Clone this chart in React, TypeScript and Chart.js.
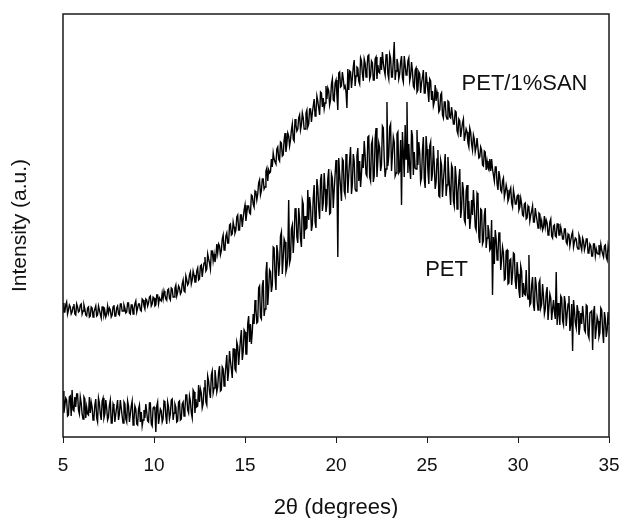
import React, { useEffect, useRef } from "react";
import { Chart, registerables } from "chart.js";

Chart.register(...registerables);

// 2θ scan: first angle and step (degrees)
const angleStart = 5;
const angleStep = 0.05;

// PET/1%SAN intensity (a.u.), one value per 0.05° (one row = 0.5°)
const petSanIntensity = [
  134, 125, 125, 132, 135, 123, 127, 132, 130, 123,
  125, 130, 133, 123, 122, 133, 130, 125, 126, 132,
  133, 123, 126, 132, 128, 122, 121, 129, 130, 120,
  121, 130, 129, 120, 125, 128, 131, 121, 122, 131,
  127, 123, 119, 130, 130, 122, 126, 120, 123, 131,
  124, 129, 127, 120, 122, 130, 132, 121, 121, 129,
  131, 123, 122, 133, 133, 126, 126, 132, 129, 124,
  125, 134, 134, 124, 123, 132, 132, 123, 128, 133,
  136, 125, 129, 133, 133, 127, 126, 138, 137, 131,
  128, 138, 137, 131, 134, 140, 141, 131, 133, 140,
  139, 131, 132, 142, 142, 133, 139, 137, 136, 144,
  138, 146, 142, 139, 137, 147, 148, 139, 137, 149,
  148, 140, 140, 149, 152, 141, 145, 151, 149, 143,
  145, 153, 157, 146, 145, 161, 157, 152, 154, 162,
  165, 153, 157, 166, 162, 155, 155, 166, 169, 157,
  158, 171, 172, 160, 168, 174, 180, 166, 168, 183,
  178, 174, 168, 186, 186, 176, 183, 175, 180, 193,
  184, 193, 191, 182, 186, 198, 202, 187, 188, 201,
  204, 194, 194, 212, 213, 202, 203, 215, 210, 204,
  207, 220, 222, 207, 207, 222, 222, 210, 219, 227,
  232, 216, 224, 231, 231, 224, 223, 242, 241, 233,
  230, 246, 245, 237, 243, 254, 257, 242, 246, 258,
  258, 248, 250, 266, 269, 256, 267, 264, 265, 278,
  270, 284, 278, 275, 273, 288, 290, 278, 276, 295,
  294, 281, 282, 297, 304, 285, 293, 304, 301, 291,
  297, 307, 313, 298, 296, 318, 312, 306, 308, 319,
  322, 307, 312, 324, 319, 308, 308, 324, 327, 310,
  313, 328, 328, 315, 324, 331, 338, 321, 324, 341,
  336, 329, 322, 345, 344, 330, 339, 328, 334, 351,
  338, 349, 346, 332, 337, 353, 358, 337, 336, 354,
  357, 342, 327, 364, 365, 350, 351, 365, 358, 349,
  351, 345, 329, 368, 347, 366, 365, 349, 359, 370,
  377, 351, 361, 370, 369, 356, 353, 379, 376, 363,
  356, 378, 374, 360, 367, 381, 382, 358, 361, 376,
  374, 357, 357, 378, 380, 358, 372, 365, 364, 380,
  367, 385, 374, 367, 362, 382, 383, 363, 358, 383,
  379, 360, 360, 377, 395, 357, 366, 378, 373, 358,
  363, 375, 381, 359, 355, 381, 372, 362, 363, 376,
  379, 356, 361, 375, 366, 351, 349, 367, 369, 345,
  347, 365, 363, 344, 354, 360, 367, 344, 344, 365,
  355, 346, 335, 358, 356, 337, 346, 331, 335, 352,
  336, 345, 340, 325, 327, 342, 344, 322, 319, 335,
  335, 321, 318, 336, 335, 320, 319, 330, 322, 313,
  313, 326, 325, 306, 303, 318, 316, 300, 307, 314,
  318, 296, 302, 308, 305, 294, 290, 309, 305, 293,
  287, 302, 298, 285, 290, 299, 299, 279, 280, 290,
  287, 272, 271, 286, 285, 267, 276, 269, 267, 278,
  266, 278, 268, 262, 256, 270, 270, 253, 247, 266,
  260, 247, 245, 256, 259, 240, 245, 252, 247, 236,
  239, 246, 249, 234, 230, 247, 241, 233, 233, 241,
  242, 227, 230, 239, 233, 222, 221, 233, 234, 218,
  219, 231, 229, 216, 222, 226, 231, 215, 215, 229,
  222, 216, 209, 224, 223, 211, 216, 207, 210, 221,
  210, 217, 214, 202, 204, 215, 218, 201, 199, 211,
  212, 201, 200, 213, 213, 202, 202, 210, 205, 198,
  198, 208, 208, 195, 193, 203, 202, 191, 197, 202,
  205, 190, 195, 199, 198, 190, 188, 202, 199, 191,
  187, 199, 196, 187, 191, 198, 198, 184, 185, 193,
  191, 181, 181, 193, 193, 181, 188, 184, 183, 192,
  184, 193, 187, 183, 180, 191, 192, 180, 177, 191,
  185,
];

// PET intensity (a.u.), one value per 0.05° (one row = 0.5°)
const petIntensity = [
  46, 24, 31, 39, 37, 21, 22, 40, 41, 21,
  47, 27, 26, 40, 30, 43, 43, 27, 23, 40,
  34, 23, 18, 40, 38, 19, 30, 23, 22, 40,
  24, 35, 30, 17, 19, 32, 38, 19, 15, 39,
  34, 23, 17, 36, 39, 19, 23, 37, 29, 17,
  20, 32, 37, 14, 14, 33, 30, 15, 23, 30,
  37, 17, 23, 37, 29, 21, 14, 35, 33, 18,
  15, 36, 31, 15, 23, 31, 36, 12, 17, 31,
  28, 13, 12, 28, 32, 15, 25, 11, 17, 27,
  19, 33, 25, 16, 15, 34, 34, 13, 11, 29,
  30, 27, 5, 31, 35, 13, 20, 28, 26, 15,
  18, 36, 35, 21, 13, 35, 30, 18, 23, 37,
  38, 17, 24, 33, 30, 15, 16, 35, 36, 17,
  18, 33, 35, 21, 28, 42, 42, 27, 24, 41,
  36, 24, 19, 47, 45, 24, 38, 30, 31, 52,
  35, 48, 44, 29, 33, 49, 57, 35, 32, 61,
  56, 45, 39, 62, 66, 44, 49, 67, 58, 45,
  50, 65, 71, 46, 47, 70, 68, 51, 61, 71,
  82, 56, 65, 86, 76, 68, 59, 88, 88, 68,
  66, 95, 91, 72, 85, 97, 107, 77, 85, 107,
  105, 83, 83, 113, 121, 95, 113, 93, 105, 123,
  113, 137, 128, 114, 115, 149, 151, 120, 118, 151,
  157, 121, 128, 164, 175, 132, 148, 167, 165, 145,
  152, 190, 189, 162, 147, 192, 184, 161, 173, 201,
  205, 163, 179, 198, 195, 165, 169, 180, 237, 174,
  178, 208, 212, 184, 200, 228, 229, 200, 194, 229,
  218, 198, 190, 237, 233, 198, 221, 208, 209, 247,
  217, 240, 231, 206, 212, 239, 252, 215, 209, 258,
  249, 229, 218, 257, 263, 226, 234, 264, 248, 225,
  233, 258, 268, 223, 224, 263, 259, 229, 247, 262,
  277, 262, 180, 279, 263, 250, 236, 278, 276, 246,
  242, 283, 275, 244, 262, 277, 290, 243, 253, 283,
  276, 248, 246, 281, 289, 256, 276, 250, 263, 283,
  269, 296, 282, 263, 261, 300, 301, 260, 256, 293,
  297, 255, 261, 298, 309, 260, 276, 294, 289, 266,
  272, 311, 309, 278, 260, 268, 335, 271, 281, 310,
  313, 266, 282, 300, 295, 261, 264, 303, 305, 264,
  266, 297, 232, 305, 284, 260, 312, 278, 335, 264,
  293, 269, 258, 307, 301, 262, 285, 269, 268, 307,
  272, 295, 284, 255, 259, 287, 300, 258, 249, 301,
  288, 266, 253, 291, 295, 256, 263, 291, 273, 248,
  255, 278, 287, 241, 240, 277, 272, 240, 256, 269,
  283, 241, 252, 280, 263, 247, 232, 272, 269, 236,
  231, 271, 260, 228, 244, 257, 268, 219, 228, 255,
  247, 217, 214, 246, 252, 218, 236, 208, 219, 237,
  222, 247, 231, 210, 207, 244, 242, 200, 194, 228,
  227, 193, 196, 222, 229, 189, 199, 212, 206, 187,
  189, 217, 142, 200, 173, 207, 198, 177, 183, 204,
  204, 167, 177, 190, 184, 157, 158, 186, 187, 153,
  154, 177, 178, 152, 163, 184, 183, 156, 148, 175,
  163, 147, 139, 171, 166, 140, 154, 143, 142, 167,
  144, 138, 182, 132, 134, 152, 160, 132, 126, 160,
  152, 136, 127, 154, 157, 129, 133, 153, 141, 123,
  128, 144, 150, 117, 117, 143, 139, 117, 128, 137,
  125, 118, 165, 112, 134, 123, 112, 141, 139, 116,
  112, 141, 134, 111, 123, 133, 141, 106, 113, 133,
  86, 137, 127, 114, 109, 132, 126, 102, 110, 124,
  113, 131, 121, 107, 105, 132, 131, 102, 99, 124,
  125, 126, 87, 124, 131, 98, 108, 120, 116, 100,
  104, 129, 127, 106, 94, 125, 118, 100, 107, 125,
  112,
];

// axis ranges / ticks
const angleMin = 5;
const angleMax = 35;
const angleTickStep = 5;
const intensityMin = 0;
const intensityMax = 423;

// in-plot series labels (data coordinates)
const seriesNames = ["PET/1%SAN", "PET"];
const seriesLabelAngles = [26.9, 24.9];
const seriesLabelIntensities = [353, 167];

const FONT = "'Liberation Sans', Arial, Helvetica, sans-serif";
const INK = "#111111";

export default function App() {
  const canvasRef = useRef<HTMLCanvasElement | null>(null);

  useEffect(() => {
    const canvas = canvasRef.current;
    if (!canvas) return;

    const toPoints = (arr: number[]) =>
      arr.map((v, i) => ({ x: angleStart + i * angleStep, y: v }));

    const framePlugin = {
      id: "frameBox",
      afterDraw(chart: any) {
        const { ctx, chartArea: a } = chart;
        ctx.save();
        ctx.strokeStyle = "#1a1a1a";
        ctx.lineWidth = 1.5;
        ctx.strokeRect(a.left, a.top, a.right - a.left, a.bottom - a.top);
        ctx.restore();
      },
    };

    const labelPlugin = {
      id: "seriesLabels",
      afterDatasetsDraw(chart: any) {
        const { ctx, scales } = chart;
        ctx.save();
        ctx.fillStyle = INK;
        ctx.font = `22px ${FONT}`;
        ctx.textAlign = "left";
        ctx.textBaseline = "middle";
        seriesNames.forEach((name, i) => {
          const px = scales.x.getPixelForValue(seriesLabelAngles[i]);
          const py = scales.y.getPixelForValue(seriesLabelIntensities[i]);
          ctx.fillText(name, px, py);
        });
        ctx.restore();
      },
    };

    const lineStyle = {
      borderColor: "#000000",
      borderWidth: 1.4,
      pointRadius: 0,
      tension: 0,
      fill: false,
    };

    const chart = new Chart(canvas, {
      type: "line",
      data: {
        datasets: [
          { label: seriesNames[0], data: toPoints(petSanIntensity), ...lineStyle },
          { label: seriesNames[1], data: toPoints(petIntensity), ...lineStyle },
        ],
      },
      options: {
        responsive: false,
        animation: false,
        events: [],
        layout: { padding: { top: 14, right: 13, left: 0, bottom: 0 } },
        plugins: {
          legend: { display: false },
          tooltip: { enabled: false },
        },
        scales: {
          x: {
            type: "linear",
            min: angleMin,
            max: angleMax,
            afterFit: (s: any) => {
              s.height = 81;
              s.paddingLeft = 0;
              s.paddingRight = 0;
            },
            ticks: {
              stepSize: angleTickStep,
              autoSkip: false,
              maxRotation: 0,
              padding: 11,
              color: INK,
              font: { size: 19, family: FONT },
            },
            grid: {
              display: true,
              drawOnChartArea: false,
              drawTicks: true,
              tickLength: 6,
              color: "#1a1a1a",
              lineWidth: 1,
            },
            border: { display: false },
            title: {
              display: true,
              text: "2θ (degrees)",
              color: INK,
              font: { size: 22, family: FONT, lineHeight: 0.9 },
              padding: { top: 0, bottom: 0 },
            },
          },
          y: {
            type: "linear",
            min: intensityMin,
            max: intensityMax,
            afterFit: (s: any) => {
              s.width = 63;
            },
            ticks: { display: false },
            grid: { display: false },
            border: { display: false },
            title: {
              display: true,
              text: "Intensity (a.u.)",
              color: INK,
              font: { size: 21, family: FONT },
              padding: { top: 7.5, bottom: 0 },
            },
          },
        },
      },
      plugins: [framePlugin, labelPlugin],
    });

    return () => chart.destroy();
  }, []);

  return (
    <div
      style={{
        position: "fixed",
        left: 0,
        top: 0,
        width: 622,
        height: 518,
        background: "#ffffff",
      }}
    >
      <canvas
        ref={canvasRef}
        width={622}
        height={518}
        style={{ display: "block", width: 622, height: 518 }}
      />
    </div>
  );
}
